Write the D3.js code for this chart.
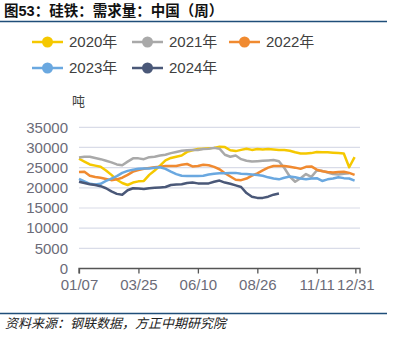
<!DOCTYPE html>
<html><head><meta charset="utf-8">
<script src="https://cdn.jsdelivr.net/npm/d3@7/dist/d3.min.js"></script>
<style>
html,body{margin:0;padding:0;background:#fff;}
svg{display:block;font-family:"Helvetica Neue",Arial,"Liberation Sans","Noto Sans CJK SC",sans-serif;}
</style></head>
<body><svg id="c" width="395" height="349"></svg>
<script>
const seriesNames = ["2020年","2021年","2022年","2023年","2024年"];
const seriesColors = ["#F5C800","#A9A9A9","#F08A30","#6AA8E0","#4A5878"];
const yTicks = [0,5000,10000,15000,20000,25000,30000,35000];
const xTickLabels = ["01/07","03/25","06/10","08/26","11/11","12/31"];
const xTickWeeks = [0,11,22,33,44,51.14];

const s2020 = [27200,26500,25800,25500,25200,24300,23200,22000,21200,20700,21300,21600,21700,23200,24300,25500,26800,27400,27700,28000,28900,29300,29600,29700,29800,29900,30200,30100,29300,29100,29400,29700,29400,29600,29500,29600,29500,29400,29400,29200,28800,28500,28500,28600,28900,28800,28800,28700,28600,28500,25100,27600];
const s2021 = [27500,27700,27700,27400,27100,26700,26300,25800,25600,26500,27300,27300,27100,27600,27700,28000,28200,28600,28900,29200,29300,29400,29400,29600,29700,29900,29700,28200,27700,28000,27100,26700,26500,26600,26700,26800,26900,26600,24900,22800,21500,22400,23400,22700,24300,24200,23800,23400,23300,23500,23600];
const s2022 = [23900,24000,23000,22700,22500,22200,21900,22100,22500,23200,24000,24400,24700,24900,25100,25200,25400,25400,25400,25700,25900,25300,25400,25700,25600,25200,24600,23600,22800,22000,21900,22300,23000,23600,24300,25000,25400,25400,25400,25200,25000,24700,25200,25300,24500,24100,23900,23800,23900,24000,23700,23200];
const s2023 = [22200,21600,21000,20800,21000,21700,22300,22900,23700,24200,24500,24700,24800,24800,25000,25100,24700,24000,23400,23000,22900,22900,22900,23000,23300,23500,23600,23600,23700,23700,23500,23400,23300,23200,23000,22600,22300,22100,22500,22800,22600,22300,22100,22300,22400,21700,22100,22300,22600,22400,22300,21800];
const s2024 = [21500,21200,20900,20700,20400,19900,19100,18500,18300,19400,19900,19800,19700,19900,20000,20100,20200,20700,20800,20900,21200,21300,21100,21100,21100,21500,21800,21300,21000,20600,20200,18700,17800,17500,17500,17800,18300,18600];
const allSeries = [s2020,s2021,s2022,s2023,s2024];

const svg = d3.select("#c");
const x = d3.scaleLinear().domain([0,52]).range([79,360]);
const y = d3.scaleLinear().domain([0,35000]).range([268.5,127.3]);

// title
svg.append("text").attr("x",4).attr("y",16).attr("font-size",14.5).attr("font-weight","bold")
  .attr("fill","#111").text("图53：硅铁：需求量：中国（周）");
svg.append("line").attr("x1",0).attr("x2",387).attr("y1",21.5).attr("y2",21.5)
  .attr("stroke","#1F4E79").attr("stroke-width",1.3);

// legend
const legPos = [[32,42],[132,42],[229,42],[32,68],[132,68]];
seriesNames.forEach((n,i)=>{
  const [lx,ly] = legPos[i];
  const g = svg.append("g");
  g.append("line").attr("x1",lx).attr("x2",lx+31).attr("y1",ly).attr("y2",ly)
    .attr("stroke",seriesColors[i]).attr("stroke-width",2.5);
  g.append("circle").attr("cx",lx+15.5).attr("cy",ly).attr("r",5.5).attr("fill",seriesColors[i]);
  g.append("text").attr("x",lx+37).attr("y",ly+5.3).attr("font-size",15).attr("fill","#404040").text(n);
});

// unit
svg.append("text").attr("x",72).attr("y",106).attr("font-size",13).attr("fill","#404040").text("吨");

// grid
svg.append("g").selectAll("line").data(yTicks.filter(d=>d>0)).join("line")
  .attr("x1",79).attr("x2",360).attr("y1",d=>y(d)).attr("y2",d=>y(d))
  .attr("stroke","#D9DCE8").attr("stroke-width",1.2);

// y axis labels
const yAxis = d3.axisLeft(y).tickValues(yTicks).tickSize(0).tickPadding(11).tickFormat(d3.format("d"));
const gy = svg.append("g").attr("transform","translate(79,0)").call(yAxis);
gy.select(".domain").remove();
gy.selectAll("text").attr("font-size",15).attr("fill","#6B6B78").attr("font-family","Helvetica Neue, Arial, Liberation Sans, sans-serif");

// x axis
const xAxis = d3.axisBottom(x).tickValues(xTickWeeks).tickSize(5).tickPadding(6)
  .tickFormat((d,i)=>xTickLabels[i]);
const gx = svg.append("g").attr("transform","translate(0,268.5)").call(xAxis);
gx.select(".domain").attr("stroke","#555").attr("stroke-width",1.3).attr("d","M79,5V0H360V5");
gx.selectAll(".tick line").attr("stroke","#555").attr("stroke-width",1.3);
gx.selectAll("text").attr("font-size",15).attr("fill","#6B6B78").attr("font-family","Helvetica Neue, Arial, Liberation Sans, sans-serif");

// lines
const line = d3.line().x((d,i)=>x(i)).y(d=>y(d)).curve(d3.curveLinear);
allSeries.forEach((s,i)=>{
  svg.append("path").datum(s).attr("d",line).attr("fill","none")
    .attr("stroke",seriesColors[i]).attr("stroke-width",2.5).attr("stroke-linejoin","round");
});

// footer
svg.append("line").attr("x1",0).attr("x2",387).attr("y1",313.5).attr("y2",313.5)
  .attr("stroke","#1F4E79").attr("stroke-width",1.3);
svg.append("text").attr("x",5).attr("y",328).attr("font-size",13).attr("font-style","italic")
  .attr("fill","#222").text("资料来源：钢联数据，方正中期研究院");
</script></body></html>
